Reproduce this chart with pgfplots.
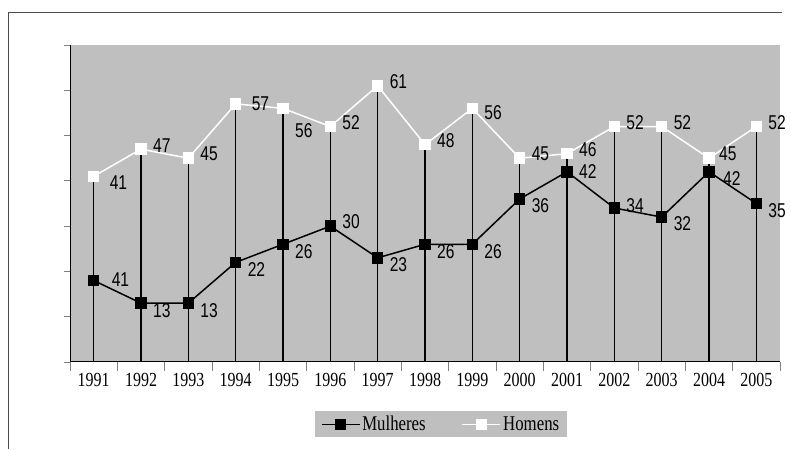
\documentclass[border=0pt]{standalone}
\usepackage{pgfplots}
\pgfplotsset{compat=1.18}
\usepackage{fontspec}
\setmainfont{Liberation Serif}
\newfontfamily\yr[FakeStretch=0.8]{Liberation Serif}
\newfontfamily\lab[FakeStretch=0.78]{Liberation Sans}
\definecolor{bg}{gray}{0.75}
\begin{document}
\begin{tikzpicture}
\useasboundingbox (-70pt,-87pt) rectangle (721pt,362pt);
\draw[black!70, line width=0.8pt] (-62pt,-87pt) -- (-62pt,350pt) -- (712pt,350pt);
\begin{axis}[
  at={(0pt,0pt)}, anchor=south west,
  scale only axis, width=710pt, height=317pt,
  xmin=-0.5, xmax=14.5, ymin=0, ymax=70,
  axis x line*=bottom, axis y line*=left,
  axis line style={line width=1pt},
  axis background/.style={fill=bg},
  xtick={0,...,14},
  xticklabels={1991,1992,1993,1994,1995,1996,1997,1998,1999,2000,2001,2002,2003,2004,2005},
  major x tick style={draw=none},
  minor xtick={-0.5,0.5,...,14.5},
  minor x tick style={line width=0.8pt},
  ytick={0,10,...,70}, yticklabels={},
  major y tick style={line width=0.8pt},
  tick align=outside, major tick length=6pt, minor tick length=9pt,
  xticklabel style={font=\yr\fontsize{20}{20}\selectfont, yshift=-2pt},
  legend style={at={(0.5225,-0.197)}, anchor=center, legend columns=2,
    fill=bg, draw=none, font=\yr\fontsize{21}{21}\selectfont,
    inner xsep=6pt, inner ysep=3pt,
    /tikz/every even column/.append style={column sep=34pt}},
  legend image code/.code={\draw[mark repeat=2,mark phase=2,#1] plot coordinates {(0pt,0pt) (19pt,0pt) (38pt,0pt)};},
  nodes near coords,
  point meta=explicit symbolic,
  clip=false,
]
% drop lines from Homens points
\addplot[ycomb, black, line width=1.3pt, forget plot, nodes near coords={}] coordinates {
(0,41) (1,47) (2,45) (3,57) (4,56) (5,52) (6,61) (7,48) (8,56) (9,45) (10,46) (11,52) (12,52) (13,45) (14,52)};
% Mulheres
\addplot[black, line width=1.5pt, mark=square*, mark size=5pt,
  every node near coord/.style={font=\lab\fontsize{20}{20}\selectfont, anchor=west, xshift=8pt, yshift=-7pt},
  coordinate style/.condition={\coordindex==0}{yshift=8pt, xshift=6pt},
  coordinate style/.condition={\coordindex==5}{yshift=12pt},
  coordinate style/.condition={\coordindex==10}{yshift=7pt},
  coordinate style/.condition={\coordindex==11}{yshift=9pt},
  coordinate style/.condition={\coordindex==13}{anchor=north, xshift=2pt, yshift=0pt},
]
coordinates {
(0,18) [41] (1,13) [13] (2,13) [13] (3,22) [22] (4,26) [26] (5,30) [30] (6,23) [23]
(7,26) [26] (8,26) [26] (9,36) [36] (10,42) [42] (11,34) [34] (12,32) [32] (13,42) [42] (14,35) [35]};
\addlegendentry{Mulheres}
% Homens
\addplot[white, line width=1.5pt, mark=square*, mark size=5pt, mark options={fill=white, draw=white},
  every node near coord/.style={font=\lab\fontsize{20}{20}\selectfont, text=black, anchor=west, xshift=8pt, yshift=4pt},
  coordinate style/.condition={\coordindex==0}{yshift=-10pt, xshift=4pt},
  coordinate style/.condition={\coordindex==3}{yshift=-4pt, xshift=4pt},
  coordinate style/.condition={\coordindex==4}{yshift=-26pt},
  coordinate style/.condition={\coordindex==8}{yshift=-8pt},
  coordinate style/.condition={\coordindex==13}{anchor=south west, xshift=-2pt, yshift=0pt},
]
coordinates {
(0,41) [41] (1,47) [47] (2,45) [45] (3,57) [57] (4,56) [56] (5,52) [52] (6,61) [61]
(7,48) [48] (8,56) [56] (9,45) [45] (10,46) [46] (11,52) [52] (12,52) [52] (13,45) [45] (14,52) [52]};
\addlegendentry{Homens}
\end{axis}
\end{tikzpicture}
\end{document}
